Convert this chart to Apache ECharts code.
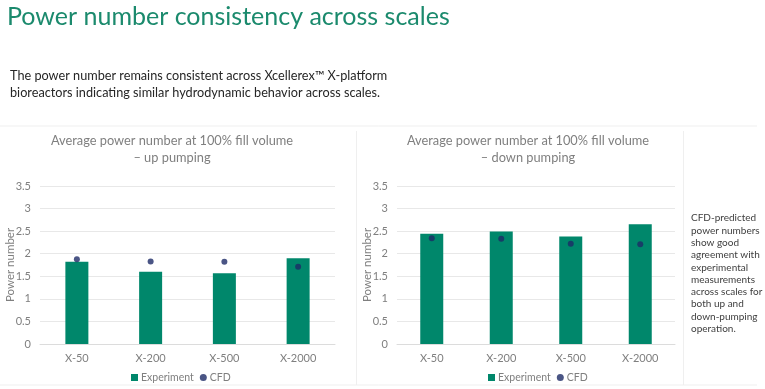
<!DOCTYPE html>
<html><head><meta charset="utf-8">
<script src="https://cdn.jsdelivr.net/npm/echarts@6/dist/echarts.min.js"></script>
<style>html,body{margin:0;padding:0;background:#fff}#c{width:765px;height:389px}</style>
</head><body><div id="c"></div>
<script>
const categories = ['X-50', 'X-200', 'X-500', 'X-2000'];
const upExperiment = [1.82, 1.60, 1.57, 1.90];
const upCFD = [1.88, 1.83, 1.82, 1.71];
const downExperiment = [2.44, 2.49, 2.38, 2.65];
const downCFD = [2.34, 2.33, 2.22, 2.21];
const yTicks = [0, 0.5, 1, 1.5, 2, 2.5, 3, 3.5];

const FONT = 'Lato';
const GREEN = '#00876b';
const NAVY = '#1d2a66';
const GREY = '#7f7f7f';

const chart = echarts.init(document.getElementById('c'), null, {renderer: 'canvas'});

function yAxis(i) {
  return {
    gridIndex: i, type: 'value', min: yTicks[0], max: yTicks[yTicks.length - 1], interval: yTicks[1] - yTicks[0],
    axisLine: {show: false}, axisTick: {show: false},
    axisLabel: {color: GREY, fontFamily: FONT, fontSize: 11, margin: 9,
      formatter: v => String(v)},
    splitLine: {lineStyle: {color: '#e8e8e8', width: 1}}
  };
}
function xAxis(i) {
  return {
    gridIndex: i, type: 'category', data: categories,
    axisLine: {lineStyle: {color: '#dcdcdc'}}, axisTick: {show: false},
    axisLabel: {color: GREY, fontFamily: FONT, fontSize: 11, margin: 9}
  };
}
function legend(left) {
  return {left: left, top: 367, itemWidth: 7, itemHeight: 7, itemGap: 6,
    textStyle: {color: GREY, fontFamily: FONT, fontSize: 10.5, padding: [0, 0, 0, -2]},
    data: [{name: 'Experiment', icon: 'rect'}, {name: 'CFD', icon: 'circle'}]};
}

const sideText = ['CFD-predicted', 'power numbers', 'show good', 'agreement with',
  'experimental', 'measurements', 'across scales for', 'both up and', 'down-pumping', 'operation.'];

const option = {
  backgroundColor: '#fff',
  animation: false,
  grid: [
    {left: 40, right: 430, top: 186, bottom: 45},
    {left: 397, right: 90, top: 186, bottom: 45}
  ],
  xAxis: [xAxis(0), xAxis(1)],
  yAxis: [yAxis(0), yAxis(1)],
  legend: [legend(126), legend(483)],
  series: [
    {name: 'Experiment', type: 'bar', xAxisIndex: 0, yAxisIndex: 0, data: upExperiment,
     barWidth: 23, itemStyle: {color: GREEN}},
    {name: 'CFD', type: 'scatter', xAxisIndex: 0, yAxisIndex: 0, data: upCFD,
     symbolSize: 6, itemStyle: {color: NAVY}, z: 5},
    {name: 'Experiment', type: 'bar', xAxisIndex: 1, yAxisIndex: 1, data: downExperiment,
     barWidth: 23, itemStyle: {color: GREEN}},
    {name: 'CFD', type: 'scatter', xAxisIndex: 1, yAxisIndex: 1, data: downCFD,
     symbolSize: 6, itemStyle: {color: NAVY}, z: 5}
  ],
  graphic: [
    {type: 'text', left: 7, top: 4, style: {text: 'Power number consistency across scales',
      fill: '#1b8a6d', font: '25px ' + FONT}},
    {type: 'text', left: 10, top: 67, style: {
      text: 'The power number remains consistent across Xcellerex\u2122 X-platform\nbioreactors indicating similar hydrodynamic behavior across scales.',
      fill: '#262626', font: '12.7px ' + FONT, lineHeight: 17}},
    {type: 'line', shape: {x1: 0, y1: 126, x2: 757, y2: 126}, style: {stroke: '#efefef', lineWidth: 1}},
    {type: 'line', shape: {x1: 0, y1: 385, x2: 757, y2: 385}, style: {stroke: '#efefef', lineWidth: 1}},
    {type: 'line', shape: {x1: 356.5, y1: 131, x2: 356.5, y2: 385}, style: {stroke: '#efefef', lineWidth: 1}},
    {type: 'line', shape: {x1: 683.5, y1: 131, x2: 683.5, y2: 385}, style: {stroke: '#efefef', lineWidth: 1}},
    {type: 'text', x: 172, y: 132, style: {text: 'Average power number at 100% fill volume\n\u2013 up pumping',
      fill: GREY, font: '12.8px ' + FONT, textAlign: 'center', textVerticalAlign: 'top', lineHeight: 17}},
    {type: 'text', x: 528, y: 132, style: {text: 'Average power number at 100% fill volume\n\u2013 down pumping',
      fill: GREY, font: '12.8px ' + FONT, textAlign: 'center', textVerticalAlign: 'top', lineHeight: 17}},
    {type: 'text', x: 10, y: 265, rotation: Math.PI / 2, style: {text: 'Power number', fill: GREY,
      font: '11.5px ' + FONT, textAlign: 'center', textVerticalAlign: 'middle'}},
    {type: 'text', x: 367, y: 265, rotation: Math.PI / 2, style: {text: 'Power number', fill: GREY,
      font: '11.5px ' + FONT, textAlign: 'center', textVerticalAlign: 'middle'}},
    {type: 'text', x: 691, y: 212, style: {text: sideText.join('\n'), fill: '#404040',
      font: '10px ' + FONT, lineHeight: 12.3, textVerticalAlign: 'top'}}
  ]
};
chart.setOption(option);
</script></body></html>
